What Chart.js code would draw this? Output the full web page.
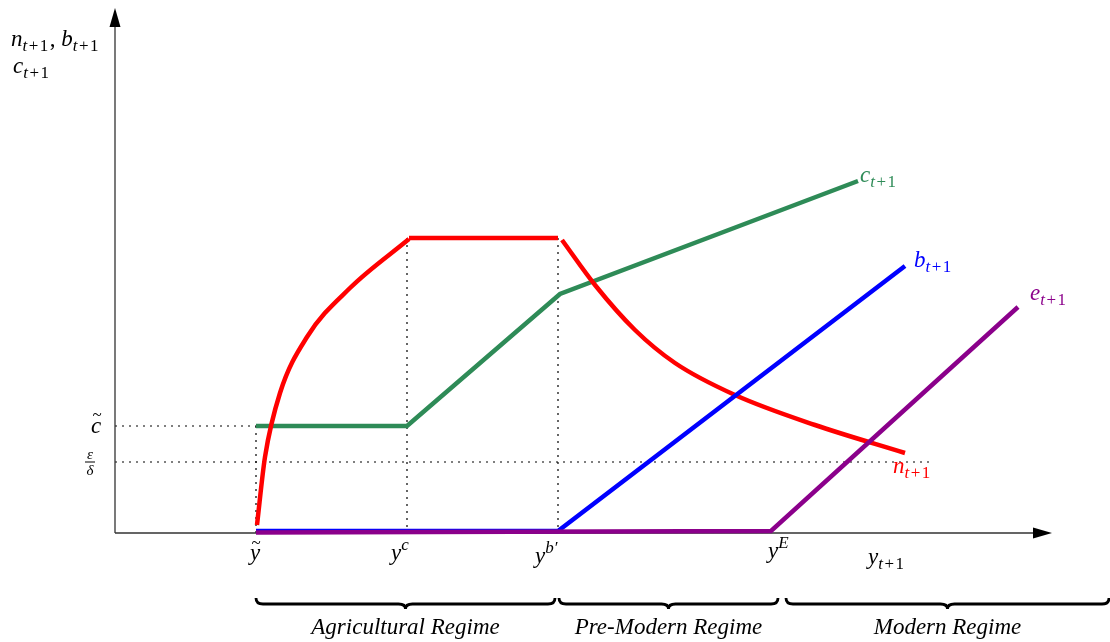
<!DOCTYPE html>
<html>
<head>
<meta charset="utf-8">
<script src="https://cdn.jsdelivr.net/npm/chart.js@4.4.1/dist/chart.umd.min.js"></script>
<style>
  body { margin: 0; background: #fff; }
  #wrap { width: 1110px; height: 642px; position: relative; }
</style>
</head>
<body>
<div id="wrap"><canvas id="canvas_grafico"></canvas></div>
<script>
// x = income y_t, y = n, b, c, e (arbitrary units)
const yTilde = 14.1, yC = 29.2, yB = 44.3, yE = 65.6;
const cTilde = 10.7, epsDelta = 7.1;

const nRiseX = [14.2, 15.0, 16.5, 19.2, 23.5, 29.4];
const nRiseY = [0.8, 7.6, 14.0, 19.6, 24.5, 29.4];
const nFlatX = [29.4, 44.3];
const nFlatY = [29.5, 29.5];
const nFallX = [44.7, 48.0, 52.0, 56.0, 62.0, 70.0, 79.0];
const nFallY = [29.3, 24.8, 20.3, 17.0, 13.8, 10.8, 8.0];

const cX = [14.1, 29.2, 44.5, 74.3];
const cY = [10.7, 10.7, 23.9, 35.2];
const bX = [14.1, 44.3, 79.0];
const bY = [0.2, 0.2, 26.7];
const eX = [14.1, 65.6, 90.3];
const eY = [0.05, 0.2, 22.6];

const regimes = ['Agricultural Regime', 'Pre-Modern Regime', 'Modern Regime'];

function pts(xs, ys) {
    return xs.map((x, i) => ({ x: x, y: ys[i] }));
}

const SERIF = '"Liberation Serif", "DejaVu Serif", serif';
const SUB = [['t', 'si'], ['+', 'sr'], ['1', 'sr']];

// draw a run of math pieces: [text, kind]  kind: i=italic, r=roman, si/sr=subscript, pi/pr=superscript
function drawMath(ctx, parts, x, y, color, align) {
    const base = 23, small = 17;
    const fontOf = k => {
        const it = k.indexOf('i') >= 0 ? 'italic ' : '';
        const sz = (k === 'i' || k === 'r') ? base : small;
        return it + sz + 'px ' + SERIF;
    };
    const gap = k => (k[0] === 's' ? 1.5 : 0);
    let w = 0;
    parts.forEach(p => { ctx.font = fontOf(p[1]); w += ctx.measureText(p[0]).width + gap(p[1]); });
    let cx = align === 'center' ? x - w / 2 : x;
    ctx.save();
    ctx.fillStyle = color;
    ctx.textAlign = 'left';
    ctx.textBaseline = 'alphabetic';
    parts.forEach(p => {
        ctx.font = fontOf(p[1]);
        let dy = 0;
        if (p[1][0] === 's') dy = 5;
        if (p[1][0] === 'p') dy = -10;
        ctx.fillText(p[0], cx, y + dy);
        cx += ctx.measureText(p[0]).width + gap(p[1]);
    });
    ctx.restore();
}

function drawBrace(ctx, x1, x2, top) {
    const mid = (x1 + x2) / 2, h = 6, r = 7;
    ctx.save();
    ctx.strokeStyle = '#000';
    ctx.lineWidth = 2.8;
    ctx.beginPath();
    ctx.moveTo(x1, top);
    ctx.quadraticCurveTo(x1, top + h, x1 + r, top + h);
    ctx.lineTo(mid - r, top + h);
    ctx.quadraticCurveTo(mid, top + h, mid, top + h + 5);
    ctx.quadraticCurveTo(mid, top + h, mid + r, top + h);
    ctx.lineTo(x2 - r, top + h);
    ctx.quadraticCurveTo(x2, top + h, x2, top);
    ctx.stroke();
    ctx.restore();
}

const desenhoPlugin = {
    id: 'desenho',
    beforeDatasetsDraw(chart) {
        const ctx = chart.ctx;
        const xs = chart.scales.x, ys = chart.scales.y;
        const x0 = xs.getPixelForValue(0), y0 = ys.getPixelForValue(0);
        ctx.save();
        // dotted guides
        ctx.strokeStyle = '#000';
        ctx.lineWidth = 1.2;
        ctx.setLineDash([2, 5]);
        ctx.beginPath();
        ctx.moveTo(x0, ys.getPixelForValue(cTilde));
        ctx.lineTo(xs.getPixelForValue(yTilde), ys.getPixelForValue(cTilde));
        ctx.moveTo(x0, ys.getPixelForValue(epsDelta));
        ctx.lineTo(xs.getPixelForValue(81.5), ys.getPixelForValue(epsDelta));
        ctx.moveTo(xs.getPixelForValue(yTilde), ys.getPixelForValue(cTilde));
        ctx.lineTo(xs.getPixelForValue(yTilde), y0);
        ctx.moveTo(xs.getPixelForValue(yC), ys.getPixelForValue(29.5));
        ctx.lineTo(xs.getPixelForValue(yC), y0);
        ctx.moveTo(xs.getPixelForValue(yB), ys.getPixelForValue(29.5));
        ctx.lineTo(xs.getPixelForValue(yB), y0);
        ctx.stroke();
        ctx.setLineDash([]);

        // axes with arrow heads
        const xEnd = chart.chartArea.right, yTop = chart.chartArea.top;
        ctx.strokeStyle = '#333';
        ctx.lineWidth = 1.3;
        ctx.beginPath();
        ctx.moveTo(x0, y0);
        ctx.lineTo(x0, yTop + 14);
        ctx.moveTo(x0, y0);
        ctx.lineTo(xEnd - 14, y0);
        ctx.stroke();
        ctx.fillStyle = '#000';
        ctx.beginPath();
        ctx.moveTo(x0, yTop - 2);
        ctx.lineTo(x0 - 5.5, yTop + 17);
        ctx.lineTo(x0 + 5.5, yTop + 17);
        ctx.closePath();
        ctx.fill();
        ctx.beginPath();
        ctx.moveTo(xEnd + 2, y0);
        ctx.lineTo(xEnd - 17, y0 - 5.5);
        ctx.lineTo(xEnd - 17, y0 + 5.5);
        ctx.closePath();
        ctx.fill();
        ctx.restore();
    },
    afterDraw(chart) {
        const ctx = chart.ctx;
        const xs = chart.scales.x, ys = chart.scales.y;
        const px = v => xs.getPixelForValue(v), py = v => ys.getPixelForValue(v);
        const y0 = py(0);

        // y axis title
        drawMath(ctx, [['n', 'i']].concat(SUB, [[', ', 'r'], ['b', 'i']], SUB), 11, 46, '#000');
        drawMath(ctx, [['c', 'i']].concat(SUB), 13, 73, '#000');

        // y axis marks
        drawMath(ctx, [['c', 'i']], 96, py(cTilde) + 7, '#000', 'center');
        ctx.save();
        ctx.font = '17px ' + SERIF;
        ctx.fillStyle = '#000';
        ctx.textAlign = 'center';
        ctx.fillText('~', 97, py(cTilde) - 6);
        ctx.font = 'italic 15px ' + SERIF;
        ctx.fillText('\u03b5', 90, py(epsDelta) - 3);
        ctx.fillText('\u03b4', 90, py(epsDelta) + 13);
        ctx.fillRect(85, py(epsDelta) - 0.5, 10, 1);
        ctx.restore();

        // x axis marks
        drawMath(ctx, [['y', 'i']], px(yTilde) - 1, y0 + 27, '#000', 'center');
        ctx.save();
        ctx.font = '17px ' + SERIF;
        ctx.fillStyle = '#000';
        ctx.textAlign = 'center';
        ctx.fillText('~', px(yTilde), y0 + 15);
        ctx.restore();
        drawMath(ctx, [['y', 'i'], ['c', 'pi']], px(yC) - 16, y0 + 27, '#000');
        drawMath(ctx, [['y', 'i'], ['b\u2032', 'pi']], px(yB) - 23, y0 + 30, '#000');
        drawMath(ctx, [['y', 'i'], ['E', 'pi']], px(yE) - 3, y0 + 25, '#000');
        drawMath(ctx, [['y', 'i']].concat(SUB), 868, y0 + 31, '#000');

        // curve labels
        drawMath(ctx, [['c', 'i']].concat(SUB), px(cX[3]) + 2, py(cY[3]) + 1, '#2e8b57');
        drawMath(ctx, [['b', 'i']].concat(SUB), px(bX[2]) + 9, py(bY[2]) + 1, '#0000ff');
        drawMath(ctx, [['e', 'i']].concat(SUB), px(eX[2]) + 12, py(eY[2]) - 7, '#8b008b');
        drawMath(ctx, [['n', 'i']].concat(SUB), 893, 473, '#ff0000');

        // regimes
        const bounds = [[px(yTilde), px(yB) - 3], [px(yB) + 1, px(yE) + 7], [px(yE) + 15, 1109]];
        bounds.forEach((b, i) => {
            drawBrace(ctx, b[0], b[1], y0 + 65);
            ctx.save();
            ctx.font = 'italic 23px ' + SERIF;
            ctx.fillStyle = '#000';
            ctx.textAlign = 'center';
            ctx.fillText(regimes[i], (b[0] + b[1]) / 2, y0 + 101);
            ctx.restore();
        });
    }
};

const lw = 4.5;
function serie(xs, ys, color, order, curved) {
    return {
        data: pts(xs, ys),
        borderColor: color,
        borderWidth: lw,
        pointRadius: 0,
        fill: false,
        clip: false,
        order: order,
        borderCapStyle: 'butt',
        cubicInterpolationMode: curved ? 'monotone' : 'default',
        tension: 0
    };
}

const ctx = document.getElementById('canvas_grafico').getContext('2d');
new Chart(ctx, {
    type: 'line',
    data: {
        datasets: [
            serie(eX, eY, '#8b008b', 0, false),
            serie(bX, bY, '#0000ff', 1, false),
            serie(nRiseX, nRiseY, '#ff0000', 2, true),
            serie(nFlatX, nFlatY, '#ff0000', 2, false),
            serie(nFallX, nFallY, '#ff0000', 2, true),
            serie(cX, cY, '#2e8b57', 3, false)
        ]
    },
    options: {
        responsive: true,
        maintainAspectRatio: false,
        animation: false,
        layout: { padding: { left: 115, right: 60, top: 10, bottom: 109 } },
        scales: {
            x: { type: 'linear', min: 0, max: 93.5, display: false },
            y: { type: 'linear', min: 0, max: 52.3, display: false }
        },
        plugins: {
            legend: { display: false },
            tooltip: { enabled: false }
        }
    },
    plugins: [desenhoPlugin]
});
</script>
</body>
</html>
